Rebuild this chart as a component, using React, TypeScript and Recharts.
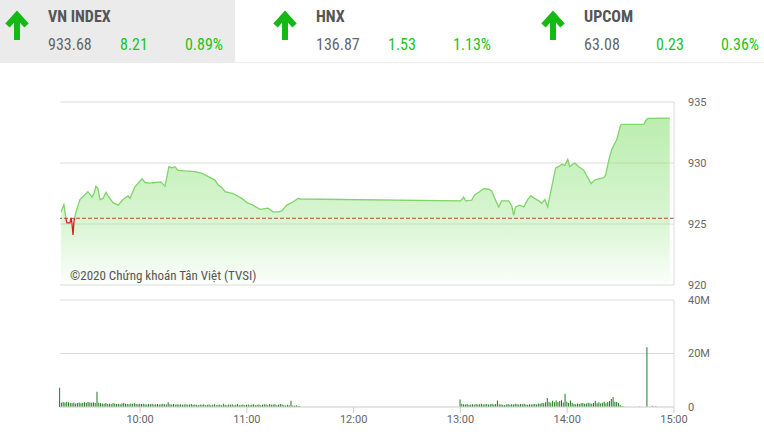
import React from 'react';
import {
  ComposedChart,
  Area,
  Bar,
  XAxis,
  YAxis,
  CartesianGrid,
  ReferenceLine,
} from 'recharts';

// ---- header data ----
const indexNames = ['VN INDEX', 'HNX', 'UPCOM'];
const indexValues = ['933.68', '136.87', '63.08'];
const indexChanges = ['8.21', '1.53', '0.23'];
const indexPercents = ['0.89%', '1.13%', '0.36%'];

// ---- price series (minutes since 00:00, index value) ----
const priceTimes = [
  555.6, 557.2, 558.4, 558.9, 560.6, 561.2, 561.7, 562.3, 562.9, 564, 566.2, 569, 570.7, 573, 574.1,
  575.2, 576.3, 577.5, 579.2, 580.8, 582, 584.8, 587.6, 590.4, 593.2, 594.3, 597.1, 601.1, 602.8,
  605.6, 608.4, 611.7, 614, 616.2, 617.9, 619.6, 621.3, 625.2, 630.8, 634.8, 638.1, 642.1, 643.8,
  646, 647.7, 652.2, 657.2, 660.1, 663.4, 667.4, 671.9, 674.7, 678, 679.7, 682.5, 685.9, 688.7, 690,
  780, 781.8, 782.9, 786.3, 788, 790.3, 793.1, 795.9, 797.6, 799.3, 801.5, 803.2, 807.1, 808.8,
  809.9, 811, 813.3, 815.6, 817.8, 819.5, 821.7, 824, 825.7, 827.4, 829, 831.3, 833.5, 835.2,
  836.9, 838.6, 840.3, 841.4, 843.1, 844.3, 846.5, 849.3, 851.2, 853.4, 855.4, 857.7, 860.5, 861.6,
  863.3, 865, 867.8, 870, 870.6, 883, 884.7, 885.8, 897.6,
];
const priceValues = [
  926.0, 926.6, 925.4, 925.1, 925.1, 925.5, 925.1, 924.1, 925.3, 926.0, 927.0, 927.4, 927.65, 927.2, 927.5,
  928.1, 927.9, 927.0, 927.1, 927.6, 927.3, 926.75, 926.55, 927.0, 927.3, 927.1, 928.05, 928.7, 928.4,
  928.35, 928.4, 928.45, 928.1, 929.7, 929.6, 929.7, 929.4, 929.35, 929.3, 929.15, 928.9, 928.6, 928.2,
  928.0, 927.65, 927.5, 927.1, 926.75, 926.55, 926.2, 926.3, 926.0, 926.0, 926.1, 926.55, 926.8, 927.1, 927.05,
  926.9, 927.2, 926.9, 926.95, 927.4, 927.6, 927.9, 927.85, 927.7, 927.1, 926.4, 926.9, 926.9, 926.5,
  925.7, 926.4, 926.55, 926.4, 927.0, 927.3, 927.1, 926.9, 926.7, 927.0, 926.4, 928.05, 929.6, 929.7,
  929.9, 929.8, 930.3, 929.7, 929.9, 930.0, 929.7, 929.4, 928.9, 928.3, 928.6, 928.7, 928.8, 929.0,
  930.2, 931.1, 931.9, 933.1, 933.17, 933.17, 933.6, 933.66, 933.68,
];
const referencePrice = 925.47;

// ---- volume series (millions per minute) ----
const volMorningStart = 555;
const volMorning = [
  7.2,
  1.6, 1.9, 1.7, 2.0, 1.8, 1.5, 1.4, 1.6, 1.3, 1.5, 1.7, 1.4, 1.6, 1.8, 1.5, 1.9, 1.7, 1.6, 1.8, 1.5,
  5.7,
  1.6, 1.4, 1.3, 1.2, 1.5, 1.1, 1.2, 1.0, 1.4, 1.3, 1.1, 1.2, 1.0, 1.3, 1.5, 1.2, 1.1, 1.0, 1.3, 1.2, 1.4, 1.1, 1.0, 1.2,
  1.1, 1.2, 1.0, 0.9, 1.1, 1.0, 1.2, 0.9, 1.0, 1.1, 0.9, 1.0, 1.2, 1.0, 0.9, 1.8, 1.0, 0.9, 1.1, 0.8, 1.0, 0.9, 1.0, 0.8, 0.9, 1.0, 0.8, 0.9, 1.1, 0.8,
  0.9, 0.8, 0.7, 0.9, 0.8, 1.0, 0.7, 0.8, 0.9, 0.7, 0.8, 1.0, 0.7, 0.8, 0.9, 0.7, 1.2, 0.8, 0.7, 0.9, 0.8, 1.0, 0.7, 0.8, 1.1, 0.7, 0.8, 0.9, 0.7, 0.8,
  0.9, 0.7, 0.8, 1.0, 0.7, 0.8, 0.9, 0.7, 0.8, 1.0, 0.9, 0.7, 1.1, 0.8, 0.9, 1.0, 0.7, 0.8, 1.1, 0.9, 0.7, 0.6, 0.8, 0.7, 2.3, 0.6, 0.5, 0.7, 0.4, 0.3,
];
const volAfternoonStart = 780;
const volAfternoon = [
  2.8,
  1.2, 1.0, 0.9, 1.1, 0.8, 0.9, 1.0, 0.8, 1.1, 0.9, 1.0, 1.2, 0.9, 1.0, 1.1, 0.9, 1.0, 1.2, 0.9, 1.1,
  2.4,
  0.9, 1.0, 0.8, 0.7, 0.9, 1.1, 0.8, 1.0, 0.9, 1.2, 1.0, 0.9, 1.1, 1.0, 1.2, 0.9, 0.8, 1.0, 0.9,
  1.0, 1.1, 0.9, 1.3, 1.2, 1.5, 1.4, 1.8,
  3.4,
  2.0, 1.6, 2.3, 1.8, 2.4, 1.9, 2.2, 2.5, 1.7,
  5.0,
  2.0, 1.5, 2.4, 1.6, 1.2, 1.0, 1.3, 1.1, 1.4, 1.5, 1.2, 1.3, 1.6, 1.4, 1.2, 1.5, 2.3, 1.4, 1.8, 1.3,
  1.6, 2.0, 1.4, 1.9, 2.2, 3.0, 3.7, 2.0, 1.9, 1.5, 0.8,
  0.4, 0.2,
];
const volCloseTimes = [881, 885, 888, 890];
const volCloseValues = [0.2, 22.3, 0.5, 0.3];

// ---- axes ----
const timeDomain = [555, 900];
const timeTicks = [600, 660, 720, 780, 840, 900];
const priceTicks = [920, 925, 930, 935];
const volTicks = [0, 20, 40];

const priceData = priceTimes.map((t, i) => ({ t, v: priceValues[i] }));
const volumeData = [
  ...volMorning.map((v, i) => ({ t: volMorningStart + i, v })),
  ...volAfternoon.map((v, i) => ({ t: volAfternoonStart + i, v })),
  ...volCloseTimes.map((t, i) => ({ t, v: volCloseValues[i] })),
];

const fmtTime = (m: number) => {
  const h = Math.floor(m / 60);
  const mm = m % 60;
  return `${h < 10 ? '0' + h : h}:${mm < 10 ? '0' + mm : mm}`;
};

const GREEN_TEXT = '#22c322';
const ARROW = '#15b915';
const CONDENSED = '"Liberation Sans Narrow", "Roboto Condensed", "DejaVu Sans Condensed", sans-serif';

const Arrow = ({ left }: { left: number }) => (
  <svg width={26} height={32} style={{ position: 'absolute', left, top: 10 }}>
    <path d="M13 30 L13 6" stroke={ARROW} strokeWidth={6} fill="none" />
    <path d="M3.5 15.5 L13 5 L22.5 15.5" stroke={ARROW} strokeWidth={6} fill="none" strokeLinejoin="miter" />
  </svg>
);

export default function App() {
  const maxP = Math.max(...priceValues);
  const minP = Math.min(...priceValues);
  const off = (maxP - referencePrice) / (maxP - minP);

  return (
    <div
      style={{
        position: 'absolute',
        left: 0,
        top: 0,
        width: 764,
        height: 442,
        background: '#fff',
        overflow: 'hidden',
        fontFamily: 'Roboto, sans-serif',
      }}
    >
      {/* header */}
      <div
        style={{
          position: 'absolute',
          left: 0,
          top: 0,
          width: 764,
          height: 62,
          borderBottom: '1px solid #ececec',
        }}
      >
        <div style={{ position: 'absolute', left: 0, top: 0, width: 235, height: 62, background: '#ebebeb' }} />
        {indexNames.map((name, i) => {
          const base = i * 268;
          return (
            <React.Fragment key={name}>
              <Arrow left={base + 4} />
              <div
                style={{
                  position: 'absolute',
                  left: base + 48,
                  top: 7,
                  fontFamily: CONDENSED,
                  fontWeight: 'bold',
                  fontSize: 16,
                  color: '#555',
                  whiteSpace: 'nowrap',
                }}
              >
                {name}
              </div>
              <div
                style={{
                  position: 'absolute',
                  left: base + 48,
                  top: 35,
                  fontFamily: CONDENSED,
                  fontSize: 16,
                  color: '#666',
                }}
              >
                {indexValues[i]}
              </div>
              <div
                style={{
                  position: 'absolute',
                  left: base + 120,
                  top: 35,
                  fontFamily: CONDENSED,
                  fontSize: 16,
                  color: GREEN_TEXT,
                }}
              >
                {indexChanges[i]}
              </div>
              <div
                style={{
                  position: 'absolute',
                  left: base + 150,
                  width: 73,
                  textAlign: 'right',
                  top: 35,
                  fontFamily: CONDENSED,
                  fontSize: 16,
                  color: GREEN_TEXT,
                }}
              >
                {indexPercents[i]}
              </div>
            </React.Fragment>
          );
        })}
      </div>

      {/* price chart */}
      <div style={{ position: 'absolute', left: 0, top: 0 }}>
        <ComposedChart width={764} height={300} data={priceData} margin={{ top: 102, right: 0, left: 60, bottom: 15 }}>
          <defs>
            <linearGradient id="priceFill" x1="0" y1="0" x2="0" y2="1">
              <stop offset="0" stopColor="#8ee27a" stopOpacity={1} />
              <stop offset="0.6" stopColor="#8ee27a" stopOpacity={0.58} />
              <stop offset="1" stopColor="#8ee27a" stopOpacity={0.05} />
            </linearGradient>
            <linearGradient id="priceStroke" x1="0" y1="0" x2="0" y2="1">
              <stop offset="0" stopColor="#7fd46a" />
              <stop offset={off} stopColor="#7fd46a" />
              <stop offset={off} stopColor="#d42020" />
              <stop offset="1" stopColor="#d42020" />
            </linearGradient>
          </defs>
          <CartesianGrid stroke="#dcdcdc" vertical={false} />
          <XAxis dataKey="t" type="number" domain={timeDomain} ticks={timeTicks} hide />
          <YAxis
            orientation="right"
            width={90}
            domain={[920, 935]}
            ticks={priceTicks}
            axisLine={{ stroke: '#dcdcdc' }}
            tickLine={false}
            tickMargin={8}
            tick={{ fontSize: 11, fill: '#666', fontFamily: 'Roboto, sans-serif' }}
          />
          <Area
            type="linear"
            dataKey="v"
            stroke="url(#priceStroke)"
            strokeWidth={1.3}
            fill="url(#priceFill)"
            dot={false}
            activeDot={false}
            isAnimationActive={false}
          />
          <ReferenceLine y={referencePrice} stroke="#b84a2a" strokeDasharray="4 2" strokeWidth={1} />
        </ComposedChart>
      </div>
      <div
        style={{
          position: 'absolute',
          left: 70,
          top: 268,
          fontSize: 13,
          color: '#555',
          fontFamily: CONDENSED,
          whiteSpace: 'nowrap',
        }}
      >
        ©2020 Chứng khoán Tân Việt (TVSI)
      </div>

      {/* volume chart */}
      <div style={{ position: 'absolute', left: 0, top: 290 }}>
        <ComposedChart width={764} height={152} data={volumeData} margin={{ top: 10, right: 0, left: 60, bottom: 0 }}>
          <CartesianGrid stroke="#dcdcdc" vertical={false} />
          <XAxis
            dataKey="t"
            type="number"
            domain={timeDomain}
            ticks={timeTicks}
            tickFormatter={fmtTime}
            height={35}
            axisLine={{ stroke: '#dcdcdc' }}
            tickLine={{ stroke: '#cfcfcf' }}
            tickSize={6}
            tick={{ fontSize: 11, fill: '#666', fontFamily: 'Roboto, sans-serif' }}
          />
          <YAxis
            orientation="right"
            width={90}
            domain={[0, 40]}
            ticks={volTicks}
            tickFormatter={(v: number) => (v === 0 ? '0' : `${v}M`)}
            axisLine={{ stroke: '#dcdcdc' }}
            tickLine={false}
            tickMargin={8}
            tick={{ fontSize: 11, fill: '#666', fontFamily: 'Roboto, sans-serif' }}
          />
          <Bar dataKey="v" fill="#1f7a1f" barSize={1} isAnimationActive={false} />
        </ComposedChart>
      </div>
    </div>
  );
}
